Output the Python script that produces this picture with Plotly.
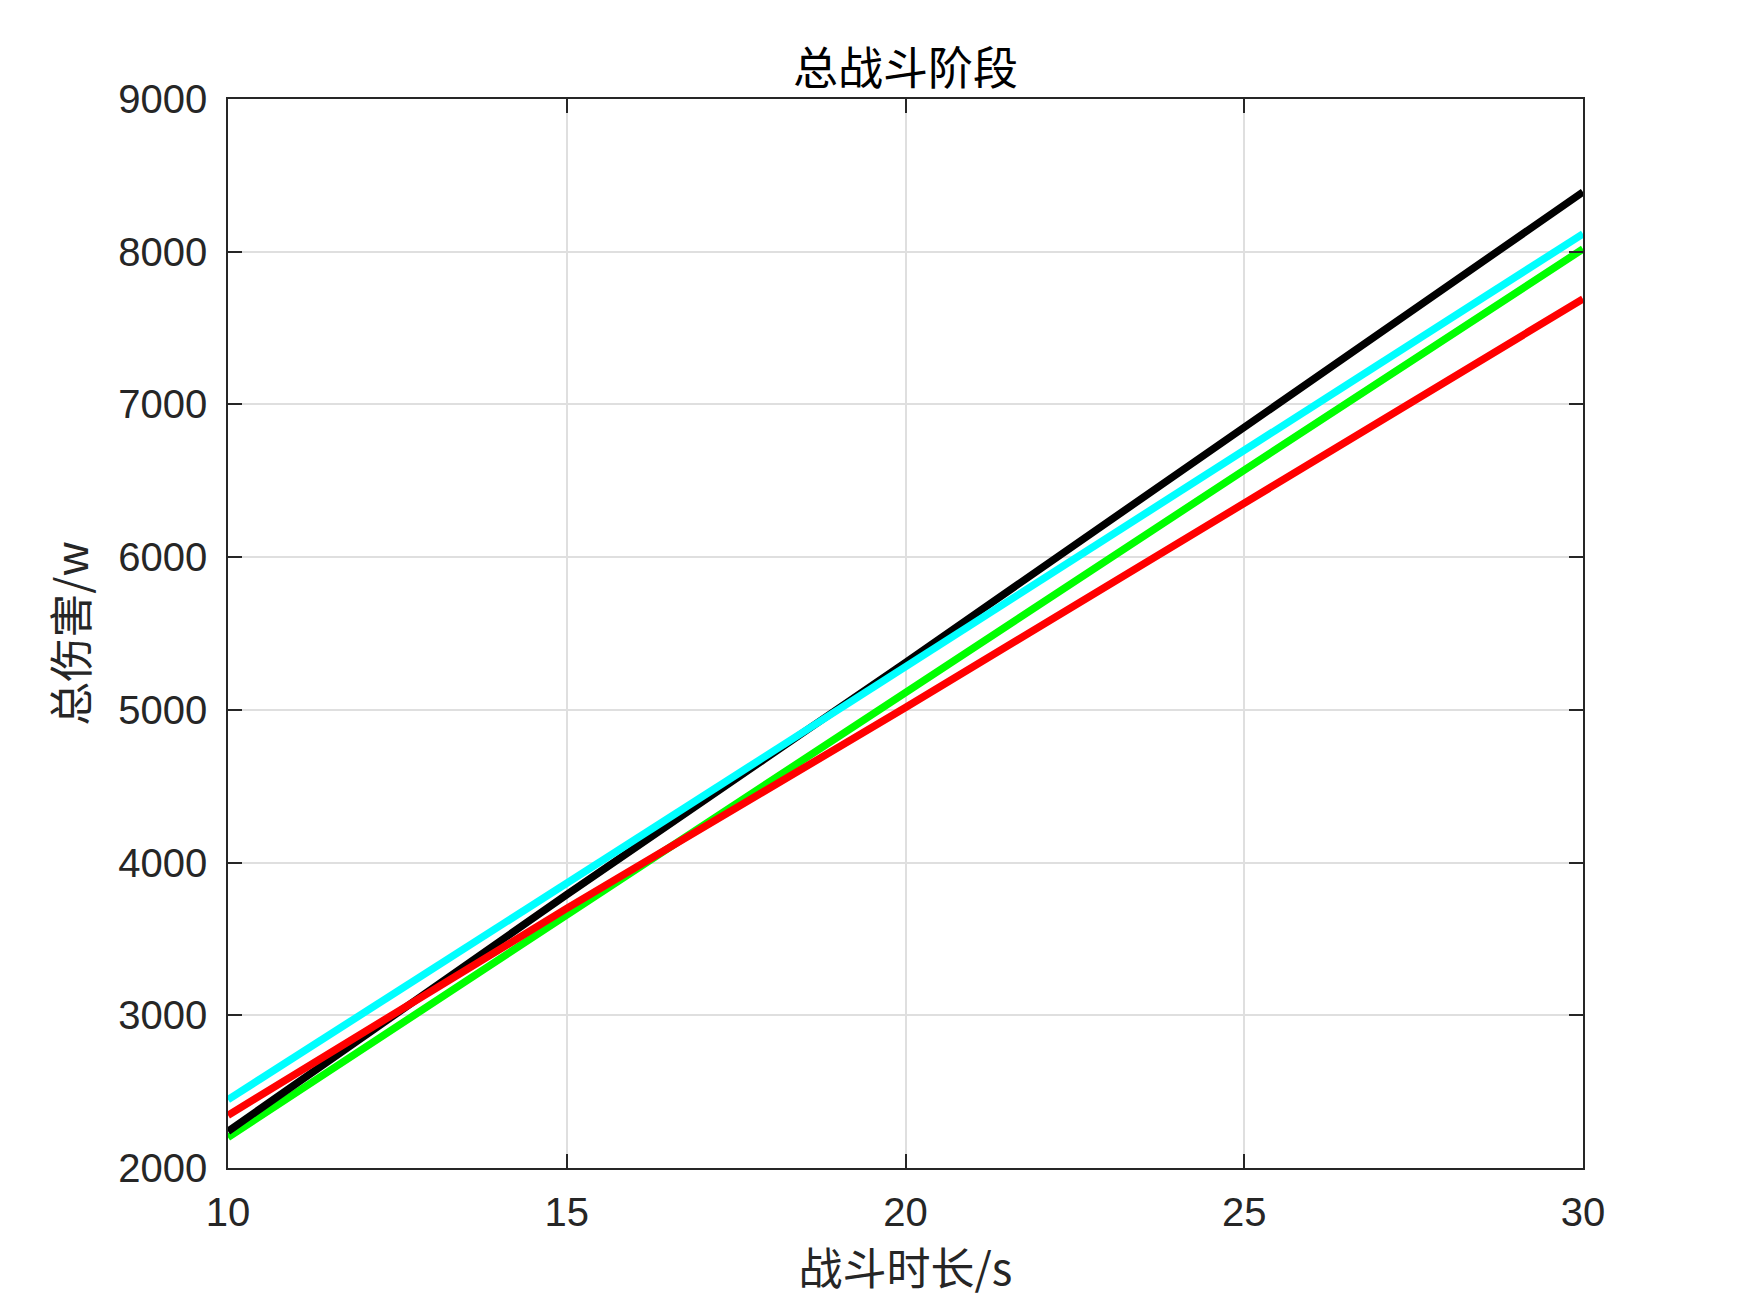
import plotly.graph_objects as go

# Data
battle_time = [10, 15, 20, 25, 30]
series_names = ["green", "black", "red", "cyan"]
dmg_green = [2200, 3660, 5110, 6570, 8018]
dmg_black = [2240, 3790, 5310, 6855, 8391]
dmg_red = [2345, 3700, 5015, 6355, 7691]
dmg_cyan = [2448, 3865, 5290, 6700, 8117]

x_ticks = [10, 15, 20, 25, 30]
y_ticks = [2000, 3000, 4000, 5000, 6000, 7000, 8000, 9000]

title_text = "总战斗阶段"
x_label = "战斗时长/s"
y_label = "总伤害/w"

series = [
    (dmg_green, "#00ff00"),
    (dmg_black, "#000000"),
    (dmg_red, "#ff0000"),
    (dmg_cyan, "#00ffff"),
]

L, R, T, B = 220, 175, 91, 153

fig = go.Figure()
for (vals, col), name in zip(series, series_names):
    fig.add_trace(go.Scatter(x=battle_time, y=vals, mode="lines", name=name,
                             line=dict(color=col, width=7.5), showlegend=False))

axis_common = dict(
    showline=True, linecolor="#262626", linewidth=1.5, mirror="ticks",
    ticks="inside", ticklen=14, tickwidth=1.5, tickcolor="#262626",
    showgrid=True, gridcolor="#dfdfdf", gridwidth=1.5,
    zeroline=False,
    tickfont=dict(family="Liberation Sans, Arial, sans-serif", size=40, color="#262626"),
)

fig.update_layout(
    width=1750, height=1313,
    margin=dict(l=L, r=R, t=T, b=B),
    paper_bgcolor="white", plot_bgcolor="white",
    title=dict(text=title_text, x=(L + 1750 - R) / 2 / 1750, xanchor="center",
               y=1 - 61 / 1313, yanchor="middle", yref="container",
               font=dict(family="Noto Sans CJK SC", size=45, color="#000000")),
    xaxis=dict(range=[10, 30], tickvals=x_ticks, ticktext=[str(v) for v in x_ticks],
               ticklabelstandoff=8,
               title=dict(text=x_label, standoff=4,
                          font=dict(family="Noto Sans CJK SC, Liberation Sans", size=44, color="#262626")),
               **axis_common),
    yaxis=dict(range=[2000, 9000], tickvals=y_ticks, ticktext=[str(v) for v in y_ticks],
               ticklabelstandoff=11,
               title=dict(text=y_label, standoff=16,
                          font=dict(family="Noto Sans CJK SC, Liberation Sans", size=44, color="#262626")),
               **axis_common),
)

fig.write_html("out.html")
